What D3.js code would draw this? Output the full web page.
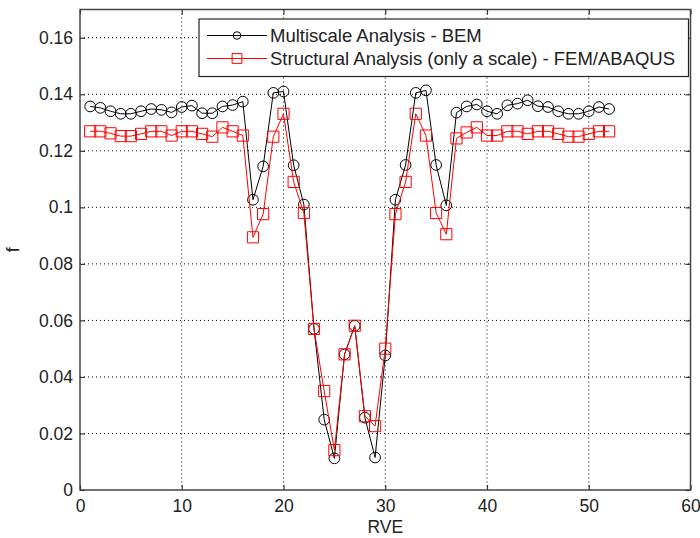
<!DOCTYPE html>
<html>
<head>
<meta charset="utf-8">
<script src="https://cdn.jsdelivr.net/npm/d3@7"></script>
<style>
  body { margin: 0; background: #fff; }
  text { font-family: "Liberation Sans", Arial, sans-serif; }
</style>
</head>
<body>
<script>
var rve = [1, 2, 3, 4, 5, 6, 7, 8, 9, 10, 11, 12, 13, 14, 15, 16, 17, 18, 19, 20,
           21, 22, 23, 24, 25, 26, 27, 28, 29, 30, 31, 32, 33, 34, 35, 36, 37, 38, 39, 40,
           41, 42, 43, 44, 45, 46, 47, 48, 49, 50, 51, 52];
var bem = [0.1357, 0.1352, 0.1340, 0.1331, 0.1331, 0.1340, 0.1348, 0.1345, 0.1336, 0.1355,
           0.1360, 0.1333, 0.1333, 0.1357, 0.1362, 0.1374, 0.1027, 0.1145, 0.1405, 0.1410,
           0.1149, 0.1010, 0.0570, 0.0249, 0.0112, 0.0480, 0.0581, 0.0256, 0.0115, 0.0476,
           0.1027, 0.1150, 0.1405, 0.1414, 0.1150, 0.1007, 0.1335, 0.1357, 0.1364, 0.1340,
           0.1331, 0.1361, 0.1367, 0.1379, 0.1358, 0.1355, 0.1340, 0.1331, 0.1331, 0.1340,
           0.1355, 0.1348];
var fem = [0.1269, 0.1269, 0.1262, 0.1252, 0.1252, 0.1260, 0.1269, 0.1269, 0.1254, 0.1269,
           0.1269, 0.1260, 0.1250, 0.1283, 0.1269, 0.1254, 0.0894, 0.0976, 0.1250, 0.1331,
           0.1090, 0.0980, 0.0570, 0.0350, 0.0141, 0.0480, 0.0581, 0.0261, 0.0226, 0.0500,
           0.0976, 0.1090, 0.1331, 0.1254, 0.0980, 0.0905, 0.1244, 0.1265, 0.1283, 0.1254,
           0.1254, 0.1269, 0.1269, 0.1260, 0.1269, 0.1269, 0.1260, 0.1250, 0.1250, 0.1260,
           0.1269, 0.1269];
var xTicks = [0, 10, 20, 30, 40, 50, 60];
var yTicks = [0, 0.02, 0.04, 0.06, 0.08, 0.1, 0.12, 0.14, 0.16];
var seriesNames = ["Multiscale Analysis - BEM",
                   "Structural Analysis (only a scale) - FEM/ABAQUS"];

var width = 700, height = 538;
var margin = { top: 9.5, right: 9.5, bottom: 48, left: 80 };
var w = width - margin.left - margin.right;
var h = height - margin.top - margin.bottom;

var svg = d3.select('body').append('svg')
  .attr('width', width)
  .attr('height', height);

var g = svg.append('g')
  .attr('transform', 'translate(' + margin.left + ',' + margin.top + ')');

var x = d3.scaleLinear().domain([0, 60]).range([0, w]);
var y = d3.scaleLinear().domain([0, 0.17]).range([h, 0]);

// dotted grid
g.selectAll('.gx').data(xTicks.slice(1, -1)).enter().append('line')
  .attr('x1', function(d) { return x(d); }).attr('x2', function(d) { return x(d); })
  .attr('y1', 0).attr('y2', h)
  .attr('stroke', '#000').attr('stroke-width', 1).attr('stroke-dasharray', '1,3');
g.selectAll('.gy').data(yTicks.slice(1)).enter().append('line')
  .attr('y1', function(d) { return y(d); }).attr('y2', function(d) { return y(d); })
  .attr('x1', 0).attr('x2', w)
  .attr('stroke', '#000').attr('stroke-width', 1).attr('stroke-dasharray', '1,3');

// axes (ticks inside, MATLAB box style)
var fmtY = function(d) { return d === 0 ? '0' : String(+d.toFixed(2)); };
var xAxis = g.append('g').attr('transform', 'translate(0,' + h + ')')
  .call(d3.axisBottom(x).tickValues(xTicks).tickSizeInner(-5).tickSizeOuter(0).tickPadding(10));
var yAxis = g.append('g')
  .call(d3.axisLeft(y).tickValues(yTicks).tickFormat(fmtY).tickSizeInner(-5).tickSizeOuter(0).tickPadding(7));
var xTop = g.append('g')
  .call(d3.axisTop(x).tickValues(xTicks).tickSizeInner(-5).tickSizeOuter(0).tickFormat(''));
var yRight = g.append('g').attr('transform', 'translate(' + w + ',0)')
  .call(d3.axisRight(y).tickValues(yTicks).tickSizeInner(-5).tickSizeOuter(0).tickFormat(''));

[xAxis, yAxis, xTop, yRight].forEach(function(a) {
  a.select('.domain').remove();
  a.selectAll('line').attr('stroke', '#333').attr('stroke-width', 1.2);
  a.selectAll('text').attr('fill', '#222').style('font-size', '17.5px')
    .style('font-family', '"Liberation Sans", Arial, sans-serif');
});

g.append('rect')
  .attr('width', w).attr('height', h)
  .attr('fill', 'none').attr('stroke', '#444').attr('stroke-width', 1.5);

// series
function drawSeries(vals, color, shape) {
  var pts = rve.map(function(d, i) { return [d, vals[i]]; });
  g.append('path').datum(pts)
    .attr('fill', 'none').attr('stroke', color).attr('stroke-width', 1)
    .attr('d', d3.line().x(function(d) { return x(d[0]); }).y(function(d) { return y(d[1]); }));
  var sym = d3.symbol().type(shape).size(shape === d3.symbolCircle ? 90 : 125);
  g.selectAll(null).data(pts).enter().append('path')
    .attr('transform', function(d) { return 'translate(' + x(d[0]) + ',' + y(d[1]) + ')'; })
    .attr('d', sym)
    .attr('fill', 'none').attr('stroke', color).attr('stroke-width', 1);
}
drawSeries(bem, '#000', d3.symbolCircle);
drawSeries(fem, '#f00', d3.symbolSquare);

// legend
var lg = svg.append('g');
lg.append('rect')
  .attr('x', 199).attr('y', 19).attr('width', 489.5).attr('height', 57.5)
  .attr('fill', '#fff').attr('stroke', '#222').attr('stroke-width', 1.2);
var legendColors = ['#000', '#f00'];
var legendShapes = [d3.symbolCircle, d3.symbolSquare];
seriesNames.forEach(function(name, i) {
  var ly = 35.5 + i * 23;
  lg.append('line').attr('x1', 207).attr('x2', 267).attr('y1', ly).attr('y2', ly)
    .attr('stroke', legendColors[i]).attr('stroke-width', 1);
  lg.append('path')
    .attr('transform', 'translate(237,' + ly + ')')
    .attr('d', d3.symbol().type(legendShapes[i]).size(i === 0 ? 45 : 95))
    .attr('fill', 'none').attr('stroke', legendColors[i]).attr('stroke-width', 1);
  lg.append('text').attr('x', 270).attr('y', ly).attr('dy', '0.35em')
    .attr('fill', '#222').style('font-size', '18.5px').text(name);
});

// axis labels
svg.append('text')
  .attr('x', margin.left + w / 2).attr('y', 533)
  .attr('text-anchor', 'middle').attr('fill', '#222').style('font-size', '17.5px')
  .text('RVE');
svg.append('text')
  .attr('transform', 'translate(19,' + (margin.top + h / 2) + ') rotate(-90)')
  .attr('text-anchor', 'middle').attr('fill', '#222').style('font-size', '18px')
  .text('f');
</script>
</body>
</html>
